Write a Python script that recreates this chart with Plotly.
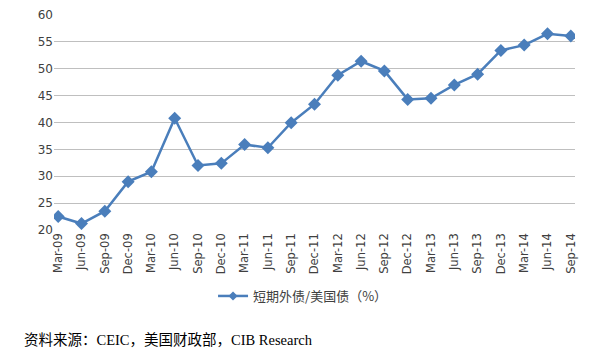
import plotly.graph_objects as go

categories = ["Mar-09", "Jun-09", "Sep-09", "Dec-09", "Mar-10", "Jun-10", "Sep-10", "Dec-10",
              "Mar-11", "Jun-11", "Sep-11", "Dec-11", "Mar-12", "Jun-12", "Sep-12", "Dec-12",
              "Mar-13", "Jun-13", "Sep-13", "Dec-13", "Mar-14", "Jun-14", "Sep-14"]
values = [22.5, 21.2, 23.5, 29.0, 30.85, 40.8, 32.0, 32.4,
          35.9, 35.3, 39.95, 43.4, 48.8, 51.4, 49.6, 44.3,
          44.5, 47.0, 49.0, 53.4, 54.4, 56.5, 56.1]
y_ticks = [20, 25, 30, 35, 40, 45, 50, 55, 60]
series_name = "短期外债/美国债（%）"
source_text = "资料来源：CEIC，美国财政部，CIB Research"

color = "#4A7EBB"
fig = go.Figure()
fig.add_trace(go.Scatter(
    x=list(range(len(categories))), y=values, mode="lines+markers", name=series_name,
    line=dict(color=color, width=2.5),
    marker=dict(symbol="diamond", size=10, color=color),
    showlegend=False,
))
# legend-only entry with the small marker used in the reference legend
fig.add_trace(go.Scatter(
    x=[None], y=[None], mode="lines+markers", name=series_name,
    line=dict(color=color, width=2.5),
    marker=dict(symbol="diamond", size=7, color=color),
))

# page body has an 8px default margin, so the figure is 8px smaller and offset
fig.update_layout(
    width=584, height=350,
    margin=dict(l=46, r=17, t=7, b=128, autoexpand=False),
    paper_bgcolor="white", plot_bgcolor="white",
    font=dict(family="DejaVu Sans, Noto Sans CJK SC", size=12, color="#404040"),
    showlegend=True,
    legend=dict(x=0.478, xanchor="center", y=-0.307, yanchor="middle", orientation="h",
                itemwidth=30,
                font=dict(size=13, family="Noto Sans CJK SC, DejaVu Sans", color="#404040")),
    xaxis=dict(
        tickmode="array", tickvals=list(range(len(categories))), ticktext=categories,
        tickangle=-90, range=[-0.18, 22.18], showgrid=False, zeroline=False,
        showline=False, ticks="", tickfont=dict(size=11.5), automargin=False,
    ),
    yaxis=dict(
        range=[20, 60], tickvals=y_ticks, showgrid=True, gridcolor="#BFBFBF", gridwidth=1,
        zeroline=False, showline=False, ticks="", tickfont=dict(size=12), automargin=False,
    ),
    annotations=[dict(
        text=source_text, xref="paper", yref="paper", x=-0.0614, y=-0.512,
        xanchor="left", yanchor="middle", showarrow=False,
        font=dict(size=14.5, family="Liberation Serif, Noto Sans CJK SC", color="#000000"),
    )],
)

fig.write_html("out.html")
